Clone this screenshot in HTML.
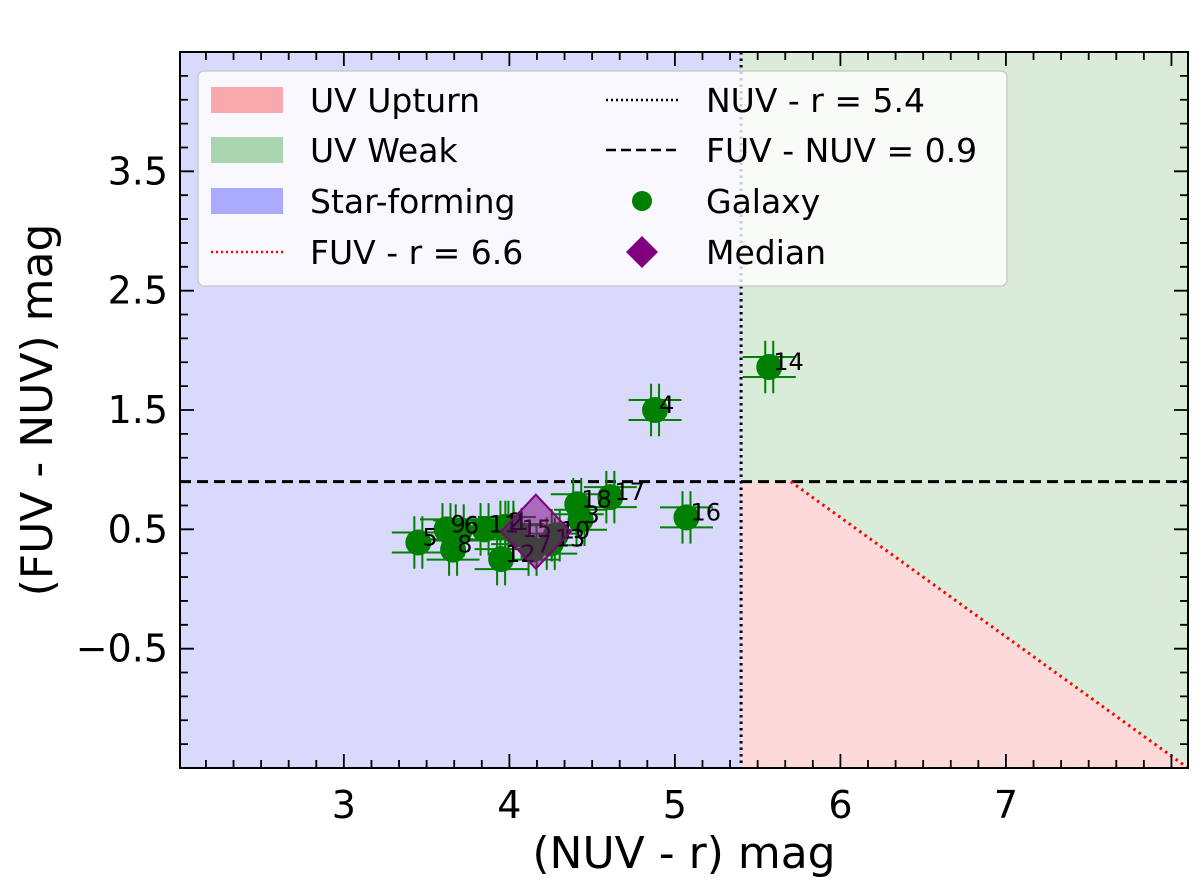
<!DOCTYPE html>
<html><head><meta charset="utf-8">
<style>
html,body{margin:0;padding:0;background:#fff;}
svg{display:block;font-family:"DejaVu Sans","Liberation Sans",sans-serif;}
</style></head>
<body>
<svg id="chart" width="1200" height="884" viewBox="0 0 1200 884" xmlns="http://www.w3.org/2000/svg">
<g id="regions"></g>
<g id="lines"></g>
<g id="points"></g>
<g id="axes"></g>
<g id="legend"></g>
<text x="684" y="868" font-size="44" text-anchor="middle">(NUV - r) mag</text>
<text transform="translate(52,410) rotate(-90)" font-size="44" text-anchor="middle">(FUV - NUV) mag</text>
</svg>
<script>
const galaxyIds = ["1","2","3","4","5","6","7","8","9","10","11","12","13","14","15","16","17","18"];
const nuvR = [4.00,3.97,4.43,4.88,3.45,3.70,4.14,3.66,3.62,4.28,3.85,3.95,4.25,5.57,4.05,5.07,4.61,4.41];
const fuvNuv = [0.52,0.52,0.58,1.50,0.39,0.49,0.33,0.33,0.50,0.45,0.50,0.25,0.38,1.86,0.46,0.60,0.77,0.71];
const xErr = [0.16,0.16,0.16,0.16,0.16,0.16,0.16,0.16,0.16,0.16,0.16,0.16,0.16,0.16,0.16,0.16,0.16,0.16];
const yErr = [0.22,0.22,0.22,0.22,0.22,0.22,0.22,0.22,0.22,0.22,0.22,0.22,0.22,0.22,0.22,0.22,0.22,0.22];
const median = [4.16, 0.48];
const xTicks = [3,4,5,6,7];
const yTicks = [-0.5,0.5,1.5,2.5,3.5];
const nuvCut = 5.4, fuvNuvCut = 0.9, fuvRCut = 6.6;

const X0=180,X1=1188,Y0=52,Y1=768;
const xmin=2.01,xmax=8.10,ymin=-1.5,ymax=4.5;
const sx=v=>X0+(v-xmin)/(xmax-xmin)*(X1-X0);
const sy=v=>Y1-(v-ymin)/(ymax-ymin)*(Y1-Y0);
const NS="http://www.w3.org/2000/svg";
function mk(parent,tag,attrs){const e=document.createElementNS(NS,tag);for(const k in attrs)e.setAttribute(k,attrs[k]);document.getElementById(parent).appendChild(e);return e;}

let e;
e=mk('regions','rect',{x:X0,y:Y0,width:sx(nuvCut)-X0,height:Y1-Y0,fill:'#d9d9fb'});


e=mk('regions','rect',{x:sx(nuvCut),y:Y0,width:X1-sx(nuvCut),height:Y1-Y0,fill:'#d9ecd9'});


const xk=fuvRCut-fuvNuvCut;
const xb=fuvRCut-ymin;
e=mk('regions','polygon',{points:`${sx(nuvCut)},${Y1} ${sx(nuvCut)},${sy(fuvNuvCut)} ${sx(xk)},${sy(fuvNuvCut)} ${sx(Math.min(xb,xmax))},${sy(fuvRCut-Math.min(xb,xmax))} ${X1},${Y1}`,fill:'#fdd9d9'});



e=mk('lines','line',{x1:sx(nuvCut),y1:Y0,x2:sx(nuvCut),y2:Y1,stroke:'#000','stroke-width':3,'stroke-dasharray':'2.5,4'});


e=mk('lines','line',{x1:X0,y1:sy(fuvNuvCut),x2:X1,y2:sy(fuvNuvCut),stroke:'#000','stroke-width':3,'stroke-dasharray':'11,6'});


e=mk('lines','line',{x1:sx(xk),y1:sy(fuvNuvCut),x2:sx(Math.min(xb,xmax)),y2:sy(fuvRCut-Math.min(xb,xmax)),stroke:'#f00','stroke-width':3,'stroke-dasharray':'2.5,4'});



for(let i=0;i<galaxyIds.length;i++){
  const cx=sx(nuvR[i]),cy=sy(fuvNuv[i]);
  const ex=sx(nuvR[i]+xErr[i])-cx, ey=cy-sy(fuvNuv[i]+yErr[i]);
  const g=mk('points','g',{});
  
  
  const d=`M${cx-ex},${cy-10}H${cx+ex}M${cx-ex},${cy+10}H${cx+ex}M${cx-4},${cy-ey}V${cy+ey}M${cx+4},${cy-ey}V${cy+ey}`;
  const p=document.createElementNS(NS,'path');p.setAttribute('d',d);p.setAttribute('stroke','#008000');p.setAttribute('stroke-width','2');p.setAttribute('fill','none');g.appendChild(p);
  const c=document.createElementNS(NS,'circle');c.setAttribute('cx',cx);c.setAttribute('cy',cy);c.setAttribute('r',13);c.setAttribute('fill','#008000');g.appendChild(c);
}
for(let i=0;i<galaxyIds.length;i++){
  const t=mk('points','text',{x:sx(nuvR[i])+4,y:sy(fuvNuv[i])+3,'font-size':24,fill:'#000'});
  
  
  t.textContent=galaxyIds[i];
}
{
  const mx=sx(median[0]),my=sy(median[1]);
  e=mk('points','polygon',{points:`${mx},${my-37} ${mx+35},${my} ${mx},${my+37} ${mx-35},${my}`,fill:'rgba(128,0,128,0.5)',stroke:'#800080','stroke-width':2});
  
  
}

e=mk('axes','rect',{x:X0,y:Y0,width:X1-X0,height:Y1-Y0,fill:'none',stroke:'#000','stroke-width':2});


let td='';
for(let v=2;v<=8.1;v+=1/6){const px=sx(v);if(px<X0+1||px>X1-1)continue;const maj=Math.abs(v-Math.round(v))<0.01;const L=maj?14:8;td+=`M${px},${Y1}v${-L}M${px},${Y0}v${L}`;}
for(let v=-1.5;v<=4.51;v+=0.2){const px=sy(v);if(px<Y0+1||px>Y1-1)continue;const maj=Math.abs((v*2)-Math.round(v*2))<0.01&&Math.abs(v-Math.round(v))>0.1;const L=maj?14:8;td+=`M${X0},${px}h${L}M${X1},${px}h${-L}`;}
e=mk('axes','path',{d:td,stroke:'#000','stroke-width':1.8,fill:'none'});


xTicks.forEach(v=>{const t=mk('axes','text',{x:sx(v),y:Y1+50,'font-size':38,'text-anchor':'middle'});


t.textContent=String(v);});
yTicks.forEach(v=>{const t=mk('axes','text',{x:X0-12,y:sy(v)+13,'font-size':38,'text-anchor':'end'});


t.textContent=(v<0?'\u2212':'')+Math.abs(v).toFixed(1);});

e=mk('legend','rect',{x:198,y:71,width:809,height:215,rx:6,fill:'rgba(255,255,255,0.8)',stroke:'#ccc','stroke-width':1.5});


const rows=[100,150,201,252];
const col1=[["UV Upturn","#f9a9ae"],["UV Weak","#a9d4ae"],["Star-forming","#aaaaff"]];
col1.forEach((r,i)=>{
  const s=mk('legend','rect',{x:211,y:rows[i]-13,width:72,height:26,fill:r[1]});
  
  
  const t=mk('legend','text',{x:310,y:rows[i]+12,'font-size':33});
  
  
  t.textContent=r[0];
});
e=mk('legend','line',{x1:211,y1:rows[3],x2:283,y2:rows[3],stroke:'#f00','stroke-width':2.5,'stroke-dasharray':'2,3'});


e=mk('legend','text',{x:310,y:rows[3]+12,'font-size':33});


e.textContent="FUV - r = 6.6";
e=mk('legend','line',{x1:606,y1:rows[0],x2:678,y2:rows[0],stroke:'#000','stroke-width':2.5,'stroke-dasharray':'2,3'});


e=mk('legend','line',{x1:606,y1:rows[1],x2:678,y2:rows[1],stroke:'#000','stroke-width':2.5,'stroke-dasharray':'10,5'});


e=mk('legend','circle',{cx:642,cy:rows[2],r:10,fill:'#008000'});


e=mk('legend','polygon',{points:`642,${rows[3]-16} 658,${rows[3]} 642,${rows[3]+16} 626,${rows[3]}`,fill:'#800080'});


["NUV - r = 5.4","FUV - NUV = 0.9","Galaxy","Median"].forEach((s,i)=>{
  const t=mk('legend','text',{x:706,y:rows[i]+12,'font-size':33});
  
  
  t.textContent=s;
});
</script>
</body></html>
